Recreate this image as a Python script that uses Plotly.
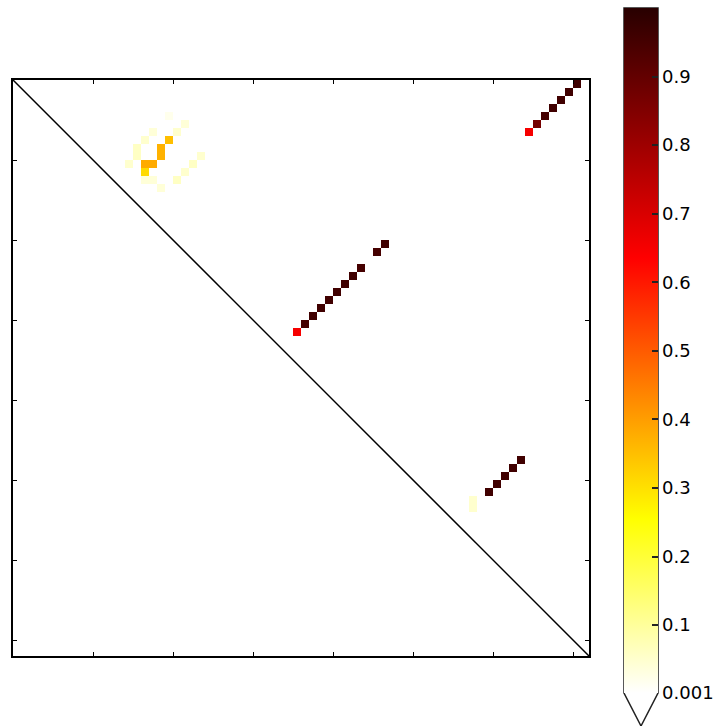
import numpy as np
import plotly.graph_objects as go

# Base-pair probability dot plot (upper triangle), sequence length N
N = 72

# Paired positions (row i, column j) and their pairing probabilities
pair_i = [6, 5, 4, 3, 2, 1, 0,
          31, 30, 29, 28, 27, 26, 25, 24, 23, 21, 20,
          51, 50, 49, 48, 47,
          52, 53,
          7, 8, 9, 10, 10, 11,
          5, 6, 6, 7, 8, 9, 10, 9, 10, 11, 12, 12, 12, 13, 4]
pair_j = [64, 65, 66, 67, 68, 69, 70,
          35, 36, 37, 38, 39, 40, 41, 42, 43, 45, 46,
          59, 60, 61, 62, 63,
          57, 57,
          19, 18, 18, 17, 16, 16,
          21, 20, 17, 16, 15, 15, 14, 23, 22, 21, 16, 17, 20, 18, 19]
pair_p = [0.65, 0.87, 0.95, 0.96, 0.96, 0.96, 0.96,
          0.65, 0.95, 0.96, 0.96, 0.96, 0.96, 0.96, 0.96, 0.95, 0.95, 0.96,
          0.96, 0.96, 0.96, 0.96, 0.96,
          0.05, 0.05,
          0.35, 0.37, 0.37, 0.38, 0.38, 0.31,
          0.04, 0.05, 0.04, 0.05, 0.06, 0.06, 0.05, 0.05, 0.06, 0.05, 0.04, 0.04, 0.06, 0.04, 0.02]

# Colorbar ticks
cbar_vals = [0.001, 0.1, 0.2, 0.3, 0.4, 0.5, 0.6, 0.7, 0.8, 0.9]
cbar_text = ["0.001", "0.1", "0.2", "0.3", "0.4", "0.5", "0.6", "0.7", "0.8", "0.9"]
axis_ticks = [10, 20, 30, 40, 50, 60, 70]

z = np.full((N, N), np.nan)
for i, j, p in zip(pair_i, pair_j, pair_p):
    z[i, j] = p

# reversed "hot"-style colour map: white -> yellow -> red -> very dark red
hot_r = [
    [0.0, "rgb(255,255,255)"],
    [1 - 0.746032, "rgb(255,255,0)"],
    [1 - 0.365079, "rgb(255,0,0)"],
    [1.0, "rgb(40,0,0)"],
]

pos = np.arange(N) + 0.5

fig = go.Figure()
fig.add_trace(go.Heatmap(
    z=z, x=pos, y=pos,
    colorscale=hot_r, zmin=0.001, zmax=1.0,
    hoverongaps=False,
    colorbar=dict(
        x=(624 - 13) / 576, xanchor="left", xpad=0,
        y=(656 - 8) / 576, yanchor="top", ypad=0,
        lenmode="pixels", len=685,
        thickness=34, thicknessmode="pixels",
        outlinewidth=0,
        tickvals=cbar_vals, ticktext=cbar_text,
        ticks="inside", ticklen=6, tickwidth=1.5, tickcolor="#222",
        tickfont=dict(family="DejaVu Sans", size=18, color="black"),
    ),
))

# main diagonal
fig.add_shape(type="line", xref="x", yref="y", x0=0, y0=0, x1=N, y1=N,
              line=dict(color="black", width=1.5))

# colorbar outline with the lower "extend" triangle
def px(xp):
    return (xp - 13) / 576

def py(yp):
    return (656 - yp) / 576

path = (f"M {px(624)},{py(8)} L {px(624)},{py(693)} L {px(641)},{py(726)} "
        f"L {px(658)},{py(693)} L {px(658)},{py(8)} Z")
fig.add_shape(type="path", xref="paper", yref="paper", path=path,
              line=dict(color="#222", width=1.5), fillcolor="rgba(0,0,0,0)")

axis_common = dict(
    showgrid=False, zeroline=False, showticklabels=False,
    ticks="inside", ticklen=4, tickwidth=1, tickcolor="black",
    tickvals=axis_ticks,
    showline=True, linecolor="black", linewidth=1.5, mirror="ticks",
)
fig.update_xaxes(range=[0, N], **axis_common)
fig.update_yaxes(range=[N, 0], **axis_common)

fig.update_layout(
    width=721, height=726,
    margin=dict(l=13, r=132, t=80, b=70, autoexpand=False),
    plot_bgcolor="white", paper_bgcolor="white",
    showlegend=False,
)

fig.write_html("out.html")
